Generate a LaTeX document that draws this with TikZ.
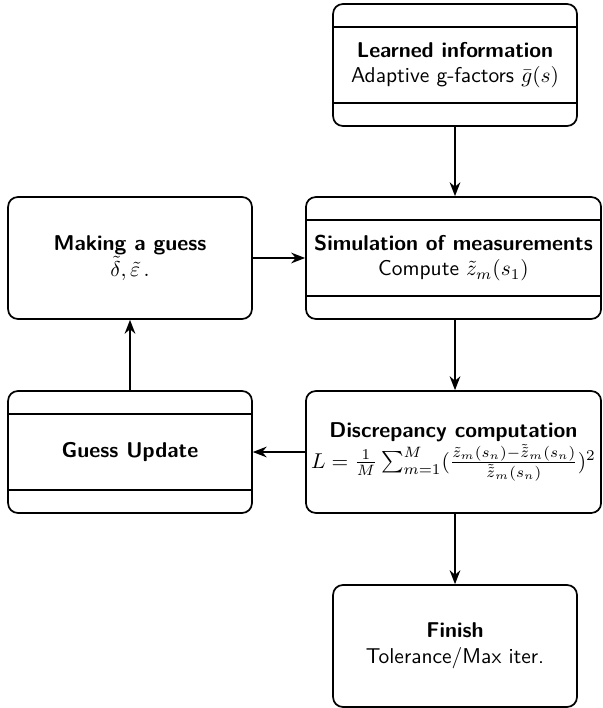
\documentclass[tikz,border=0pt]{standalone}
\usetikzlibrary{arrows.meta}
\begin{document}
\begin{tikzpicture}[x=0.0164cm, y=-0.0164cm,
  box/.style={draw, line width=0.8pt, rounded corners=0.16cm, align=center,
    minimum height=2cm, font=\sffamily, inner sep=2pt},
  narrow/.style={box, minimum width=4cm},
  wide/.style={box, minimum width=4.84cm},
  conn/.style={line width=0.8pt, -{Stealth[length=6.5pt,width=5pt]}}]
\useasboundingbox (0,0) rectangle (602,708);
\node[narrow] (learn) at (455,65) {\textbf{Learned information}\\Adaptive g-factors $\bar{g}(s)$};
\node[narrow] (guess) at (130,258) {\textbf{Making a guess}\\$\tilde{\delta},\tilde{\varepsilon}\,.$};
\node[wide] (sim) at (453.5,258) {\textbf{Simulation of measurements}\\Compute $\tilde{z}_m(s_1)$};
\node[narrow] (update) at (130,452) {\textbf{Guess Update}};
\node[wide] (disc) at (453.5,452) {\textbf{Discrepancy computation}\\$L=\frac{1}{M}\sum_{m=1}^{M}(\frac{\tilde{z}_m(s_n)-\tilde{\tilde{z}}_m(s_n)}{\tilde{\tilde{z}}_m(s_n)})^2$};
\node[narrow] (finish) at (455,646) {\textbf{Finish}\\Tolerance/Max iter.};
\foreach \n in {learn,sim,update}{
  \draw[line width=0.8pt] ([yshift=-0.39cm]\n.north west) -- ([yshift=-0.39cm]\n.north east);
  \draw[line width=0.8pt] ([yshift=0.39cm]\n.south west) -- ([yshift=0.39cm]\n.south east);
}
\draw[conn] (learn.south) -- (learn.south |- sim.north);
\draw[conn] (guess) -- (sim);
\draw[conn] (sim.south -| learn.south) -- (disc.north -| learn.south);
\draw[conn] (disc) -- (update);
\draw[conn] (update) -- (guess);
\draw[conn] (disc.south -| finish.north) -- (finish.north);
\end{tikzpicture}
\end{document}
